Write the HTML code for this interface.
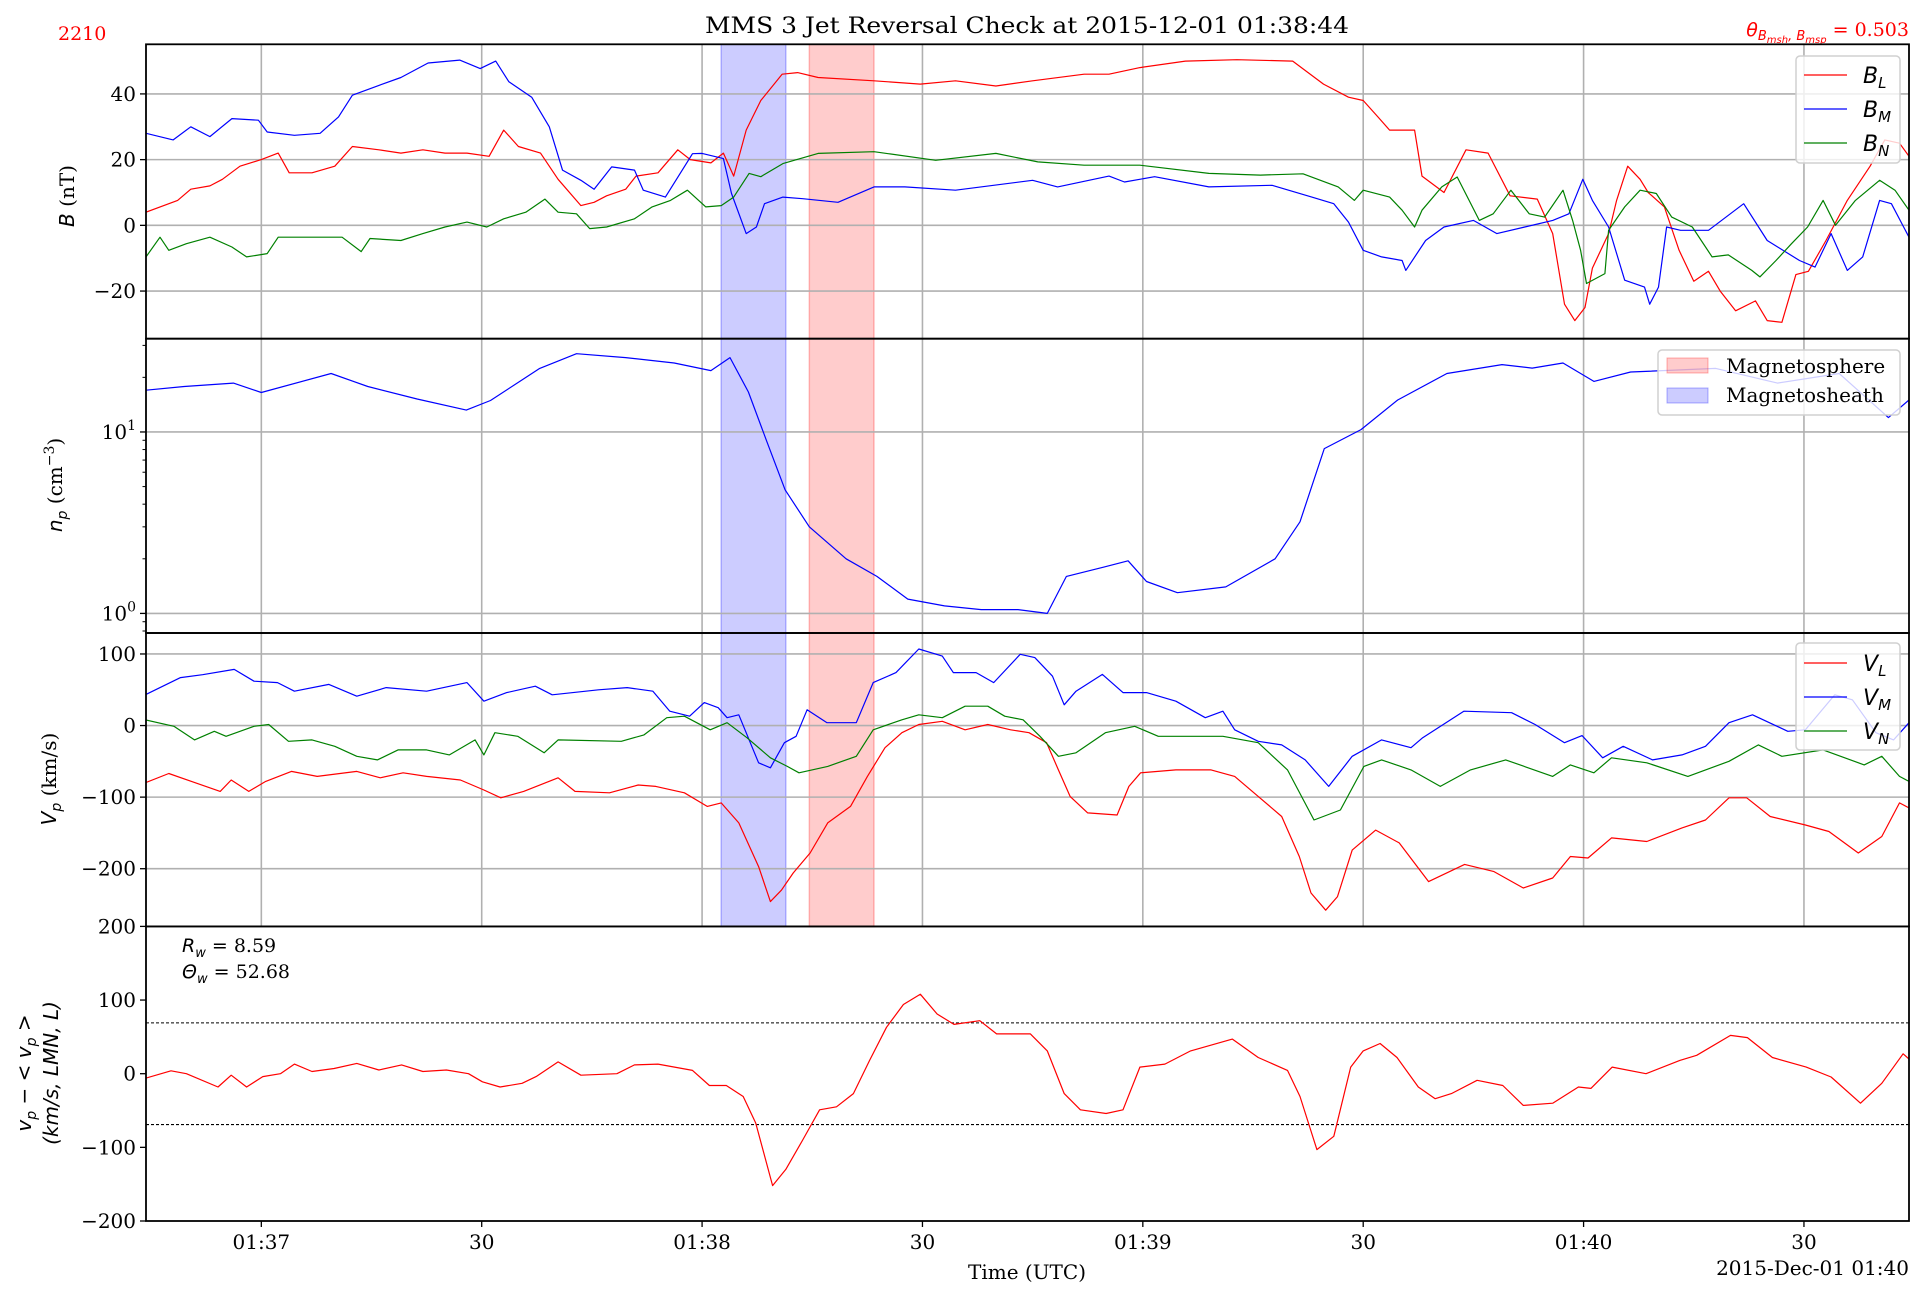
<!DOCTYPE html>
<html><head><meta charset="utf-8">
<style>
html,body{margin:0;padding:0;background:#fff;}
svg{display:block;}
text{font-family:"DejaVu Serif","Liberation Serif",serif;}
.m{font-family:"DejaVu Sans","Liberation Sans",sans-serif;font-style:italic;}
</style></head>
<body>
<svg id="fig" width="1924" height="1297" viewBox="0 0 1924 1297" xmlns="http://www.w3.org/2000/svg">
<rect width="1924" height="1297" fill="#fff"/>
<text x="1027" y="33" font-size="22" text-anchor="middle" textLength="644" lengthAdjust="spacingAndGlyphs">MMS 3 Jet Reversal Check at 2015-12-01 01:38:44</text>
<text x="58" y="40" font-size="19" fill="#ff0000">2210</text>
<text x="1909" y="36" font-size="19" fill="#ff0000" text-anchor="end"><tspan class="m">θ</tspan><tspan class="m" font-size="13" dy="4">B</tspan><tspan class="m" font-size="10" dy="3">msh</tspan><tspan class="m" font-size="13" dy="-3">, B</tspan><tspan class="m" font-size="10" dy="3">msp</tspan><tspan dy="-7"> = 0.503</tspan></text>
<g id="plots"></g>
</svg>
<script>
// ---- data (t = seconds after 01:37:00) ----
const tickTimes=[0,30,60,90,120,150,180,210];
const tickLabels=["01:37","30","01:38","30","01:39","30","01:40","30"];
const mshInterval=[62.6,71.4];
const mspInterval=[74.6,83.4];
const bL=[[-15.7,4],[-11.4,7.6],[-9.6,11],[-7,12],[-5.3,14],[-2.9,18],[0,20],[2.3,22],[3.8,16],[6.9,16],[10,18],[12.4,24],[16,23],[19,22],[22,23],[25,22],[28,22],[31,21],[33,29],[35,24],[38,22],[40.4,14],[43.5,6],[45.3,7],[47,9],[49.6,11],[51,15],[54,16],[56.7,23],[58.4,20],[61.2,19],[62.9,22],[64.3,15],[66,29],[68,38],[70.9,46],[73,46.5],[75.8,45],[83.4,44],[89.7,43],[94.5,44],[100,42.4],[105,44],[112,46],[115.4,46],[119.6,48],[125.8,50],[132.8,50.4],[140.4,50],[144.6,43],[148,39],[150,38],[152,33],[153.6,29],[157,29],[158,15],[161,10],[164,23],[167,22],[170,9],[173.7,8],[175.8,-2.5],[177.4,-24],[178.8,-29],[180.2,-25],[181.2,-13],[183.4,-2.5],[184.5,7.6],[186,18],[187.7,14],[188.8,10],[191,5.6],[193,-7.6],[195,-17],[197,-14],[198.6,-20],[200.7,-26],[203.4,-23],[205,-29],[207,-29.5],[208.9,-15],[210.6,-14],[213,-4.6],[215.9,7.6],[219,18],[221,26],[223,25],[224.3,21]];
const bM=[[-15.7,28],[-12,26],[-9.6,30],[-7,27],[-4,32.5],[-0.4,32],[0.8,28.4],[4.5,27.4],[8,28],[10.5,33],[12.4,39.6],[16,42.6],[19,45],[22.7,49.4],[27,50.3],[29.8,47.7],[31.9,50],[33.7,43.7],[36.8,39],[39.2,30],[41,16.8],[43.5,13.7],[45.3,11],[47.7,17.8],[50.8,16.8],[52,10.7],[55,8.6],[58.7,21.8],[60,21.9],[62.9,20.3],[64,9.7],[66,-2.5],[67.4,-0.5],[68.5,6.6],[71,8.6],[73.7,8.1],[78.5,7],[83.4,11.7],[87.6,11.7],[94.5,10.7],[105,13.7],[108.4,11.7],[115.4,15],[117.5,13.2],[121.6,14.8],[129,11.7],[137.6,12.2],[143,8.6],[146,6.6],[148,1],[150,-7.6],[152.5,-9.6],[155.3,-10.7],[155.8,-13.7],[158.5,-4.6],[161,-0.5],[165,1.5],[168.2,-2.5],[172,-0.5],[175.8,1.5],[178,3.5],[179.9,14],[181.2,7.6],[183.4,-0.5],[185.6,-16.7],[188.3,-18.8],[189,-24],[190.2,-18.8],[191.3,-0.5],[193.2,-1.5],[197,-1.5],[201.8,6.6],[205,-4.6],[209.4,-10.7],[211.5,-12.7],[213.7,-2.5],[215.9,-13.7],[218,-9.6],[220.3,7.6],[221.9,6.6],[224.3,-3.6]];
const bN=[[-15.7,-9.6],[-13.8,-3.6],[-12.6,-7.6],[-10.2,-5.6],[-7,-3.6],[-4,-6.6],[-2,-9.6],[0.8,-8.6],[2.3,-3.6],[6.9,-3.6],[11,-3.6],[13.6,-8],[14.8,-4],[19,-4.6],[22,-2.5],[25,-0.5],[28,1],[30.7,-0.5],[33,2],[36,4],[38.6,8],[40.4,4],[42.9,3.5],[44.7,-1],[47,-0.5],[50.8,2],[53.2,5.6],[55.7,7.6],[58,10.7],[60.5,5.6],[62.6,6],[64.3,8.6],[66.4,15.8],[68,14.8],[71,18.8],[75.8,21.9],[83.4,22.4],[91.8,19.8],[100,21.9],[105.7,19.3],[112,18.3],[119.6,18.3],[129,15.8],[136,15.3],[141.8,15.7],[146.6,11.7],[148.8,7.6],[150,10.7],[153.6,8.6],[155.3,4.6],[157,-0.5],[158,4.6],[160.7,11.7],[162.8,14.7],[165.8,1.5],[167.7,3.5],[170.1,10.7],[172.6,3.5],[174.7,2.5],[177.2,10.7],[178.5,1.5],[179.6,-7.6],[180.4,-17.7],[182.9,-14.7],[183.4,-1.5],[185.6,5.6],[187.7,10.7],[189.9,9.7],[192,2.5],[194.8,-0.5],[197.5,-9.6],[199.7,-9],[202.9,-13.7],[204,-15.7],[206.2,-10.7],[208.3,-5.6],[210.5,-0.5],[212.6,7.6],[214.3,0],[217,7.6],[220.3,13.7],[222.4,10.7],[224.3,4.6]];
const np=[[-15.7,17],[-10.5,17.8],[-3.8,18.6],[0,16.5],[9.5,21],[14.5,17.8],[21.2,15.2],[27.9,13.2],[31.2,14.9],[37.9,22.4],[42.9,27],[49.6,25.7],[56.2,24],[61.2,21.8],[63.8,25.7],[66.3,16.6],[68.8,8.9],[71.3,4.8],[74.6,3],[79.6,2],[83.8,1.6],[88,1.2],[93,1.1],[98,1.05],[103,1.05],[107,1.0],[109.6,1.6],[114.7,1.8],[118,1.95],[120.5,1.5],[124.7,1.3],[131.3,1.4],[138,2],[141.4,3.2],[144.7,8.1],[149.7,10.3],[154.7,15],[161.4,21],[168.9,23.5],[173,22.5],[177.2,24],[181.4,19],[186.4,21.4],[198,22.4],[206.4,18.6],[214.8,21],[221.5,12],[224.3,15]];
const vL=[[-15.8,-80],[-12.6,-67],[-9.5,-78],[-5.6,-92],[-4.1,-76],[-1.7,-92],[0.6,-78],[4.1,-64],[7.6,-71],[13,-64],[16.2,-73],[19.3,-66],[22.5,-71],[27.1,-76],[30.3,-90],[32.6,-101],[35.7,-92],[40.4,-73],[42.7,-92],[47.4,-94],[51.3,-83],[53.7,-85],[57.6,-94],[60.7,-113],[62.6,-108],[65,-136],[67.7,-197],[69.3,-246],[70.8,-230],[72.4,-206],[74.7,-178],[77.1,-136],[80.2,-113],[82.5,-71],[84.9,-31],[87.2,-10],[89.5,1.4],[92.7,6],[95.8,-6],[98.9,1.4],[102,-6],[104.5,-10],[106.9,-24],[108.5,-62],[110.1,-99],[112.5,-122],[116.5,-125],[118.1,-85],[119.7,-66],[124.5,-62],[129.3,-62],[132.5,-71],[135.7,-99],[138.9,-127],[141.3,-183],[142.9,-234],[144.9,-258],[146.5,-239],[148.5,-174],[151.7,-146],[154.9,-164],[158.9,-218],[163.8,-194],[167.8,-204],[171.8,-227],[175.8,-213],[178.2,-183],[180.6,-185],[183.8,-157],[188.6,-162],[193.4,-143],[196.6,-132],[199.8,-101],[202.2,-101],[205.4,-127],[210.2,-139],[213.4,-148],[217.4,-178],[220.6,-155],[223,-108],[224.3,-115]];
const vM=[[-15.8,43],[-11,67],[-8,71],[-3.7,78.5],[-1,62],[2.2,60],[4.5,48],[9.2,57.5],[13,41],[17,53],[22.5,48],[28,60],[30.3,34],[33.4,46],[37.3,55],[39.6,43],[45.9,50],[49.8,53],[53.3,48],[55.6,20],[58.3,13],[60.3,32],[62.2,25],[63.4,11],[65,15],[67.7,-52],[69.3,-59],[71.2,-24],[72.8,-15],[74.3,22],[77,4],[81,4],[83.3,60],[86.4,74],[89.5,107],[92.7,97],[94.2,74],[97.3,74],[99.7,60],[103.3,99.5],[105.3,95],[107.7,69],[109.3,29],[110.9,48],[114.5,71.5],[117.3,46],[120.5,46],[124.5,34],[128.5,11],[130.9,20],[132.5,-6],[135.7,-22],[138.9,-27],[142.1,-48],[145.3,-85],[148.5,-43],[152.5,-20],[156.5,-31],[158.1,-17],[163.7,20],[170.2,18],[173.4,1.4],[177.4,-24],[179.8,-14],[182.6,-45],[185.4,-29],[189.4,-48],[193.4,-41],[196.6,-29],[199.8,4],[203,15],[207.8,-8],[210.2,-6],[214.2,43],[216.6,36],[219.8,-10],[222.2,-20],[224.3,4]];
const vN=[[-15.8,8],[-11.9,-1],[-9.1,-20],[-6.4,-8],[-4.8,-15],[-1,-1],[1,1.4],[3.7,-22],[6.9,-20],[10,-29],[13,-43],[15.8,-48],[18.6,-34],[22.5,-34],[25.6,-41],[29.1,-20],[30.3,-41],[31.8,-10],[34.9,-15],[38.5,-38],[40.4,-20],[49,-22],[52.1,-13],[55.2,11],[57.6,13],[61.1,-6],[63.4,4],[66.1,-17],[69.3,-45],[71.6,-57],[73.2,-66],[77.1,-57],[81,-43],[83.3,-6],[87.2,8],[89.5,15],[92.7,11],[95.8,27],[98.9,27],[101.2,13],[103.7,8],[106,-15],[108.5,-43],[110.9,-38],[114.9,-10],[118.9,-1],[122.1,-15],[126.1,-15],[130.9,-15],[135.7,-24],[139.7,-62],[143.3,-132],[146.9,-118],[150.1,-57],[152.5,-48],[156.5,-62],[160.5,-85],[164.6,-62],[169.4,-48],[175.8,-71],[178.2,-55],[181.4,-66],[183.8,-45],[188.6,-52],[194.2,-71],[199.8,-50],[203.8,-27],[207,-43],[212.6,-34],[218.2,-55],[220.6,-43],[223,-71],[224.3,-78]];
const resid=[[-15.7,-6],[-12.3,4],[-10.2,0],[-5.9,-18],[-4.1,-2],[-2,-18],[0.2,-4],[2.6,0],[4.5,13],[6.9,3],[9.9,7],[13,14],[16,5],[19.1,12],[22,3],[25.2,5],[28.2,0],[30.1,-11],[32.5,-18],[35.5,-13],[37.4,-4],[40.4,16],[43.5,-2],[48.4,0],[50.8,12],[54,13],[58.7,4.5],[61,-16],[63.3,-16],[65.6,-31],[67.3,-67],[69.6,-152],[71.4,-130],[73.7,-90],[76,-49],[78.3,-45],[80.6,-27],[82.8,18],[85.1,63],[87.4,94],[89.7,108],[92,81],[94.3,67],[97.8,72],[100.1,54],[104.7,54],[107,31],[109.3,-27],[111.5,-49],[115,-54],[117.3,-49],[119.6,9],[123,13],[126.5,31],[132.2,47],[135.7,22],[139.7,4.5],[141.4,-31],[143.7,-103],[146,-85],[148.3,9],[150,31],[152.3,41],[154.6,22],[157.5,-18],[159.8,-34],[162,-27],[165.5,-9],[169,-16],[171.8,-43],[175.8,-40],[179.3,-18],[181,-20],[183.9,9],[188.5,0],[193.1,18],[195.4,25],[200,52],[202.3,49],[205.7,22],[210.3,9],[213.7,-4.5],[217.7,-40],[220.6,-13],[223.5,27],[224.3,20]];
const p1Ticks=[40,20,0,-20];
const p3Ticks=[100,0,-100,-200];
const p4Ticks=[200,100,0,-100,-200];
const thresholds=[69,-69];
// ---- layout ----
const NS="http://www.w3.org/2000/svg";
const L=146,R=1909,T0=-15.7,T1=224.3;
const P=[{top:44.3,bot:338.7,lo:-34.5,hi:55.1},{top:338.7,bot:633,lo:Math.log10(0.78),hi:1.514},{top:633,bot:926.4,lo:-280.6,hi:129.3},{top:926.4,bot:1221,lo:-200,hi:200}];
const g=document.getElementById('plots');
function X(t){return L+(t-T0)/(T1-T0)*(R-L);}
function Y(i,v){const p=P[i];return p.top+(p.hi-v)/(p.hi-p.lo)*(p.bot-p.top);}
function el(tag,attrs,parent){const e=document.createElementNS(NS,tag);for(const k in attrs)e.setAttribute(k,attrs[k]);(parent||g).appendChild(e);return e;}
function fmt(v){return v<0?'\u2212'+(-v):''+v;}
function ylabelTick(i,v,txt){const y=Y(i,v);
  const tk=el('line',{x1:L-6,x2:L,y1:y,y2:y,stroke:'#000','stroke-width':1.3});
  
  
  const t=el('text',{x:L-10,y:y+7,'font-size':20,'text-anchor':'end'});t.textContent=txt;
  
  
  return t;}
// clip paths
const defs=el('defs',{});
P.forEach((p,i)=>{const c=el('clipPath',{id:'c'+i},defs);el('rect',{x:L,y:p.top,width:R-L,height:p.bot-p.top},c);});
// shaded intervals panels 0-2
[0,1,2].forEach(i=>{const p=P[i];
  const a=el('rect',{x:X(mshInterval[0]),y:p.top,width:X(mshInterval[1])-X(mshInterval[0]),height:p.bot-p.top,fill:'rgba(0,0,255,0.2)',stroke:'rgba(0,0,255,0.25)','stroke-width':1.5});
  
  
  const b=el('rect',{x:X(mspInterval[0]),y:p.top,width:X(mspInterval[1])-X(mspInterval[0]),height:p.bot-p.top,fill:'rgba(255,0,0,0.2)',stroke:'rgba(255,0,0,0.25)','stroke-width':1.5});
  
  
});
// grids panels 0-2
[0,1,2].forEach(i=>{const p=P[i];
  tickTimes.forEach(t=>{const l=el('line',{x1:X(t),x2:X(t),y1:p.top,y2:p.bot,stroke:'#b0b0b0','stroke-width':1.6});
    
    });
  const ys=i===0?p1Ticks:i===1?[0,1]:p3Ticks;
  ys.forEach(v=>{const l=el('line',{x1:L,x2:R,y1:Y(i,v),y2:Y(i,v),stroke:'#b0b0b0','stroke-width':1.6});
    
    });
});
// series
function series(i,data,color,name,log){
  const pts=data.map(d=>X(d[0]).toFixed(1)+','+Y(i,log?Math.log10(d[1]):d[1]).toFixed(1)).join(' ');
  const pl=el('polyline',{points:pts,fill:'none',stroke:color,'stroke-width':1.2,'stroke-linejoin':'round','clip-path':'url(#c'+i+')'});
  
  
}
series(0,bL,'#ff0000','b-l-line');
series(0,bM,'#0000ff','b-m-line');
series(0,bN,'#008000','b-n-line');
series(1,np,'#0000ff','density-line',true);
series(2,vL,'#ff0000','v-l-line');
series(2,vM,'#0000ff','v-m-line');
series(2,vN,'#008000','v-n-line');
thresholds.forEach(v=>{const l=el('line',{x1:L,x2:R,y1:Y(3,v),y2:Y(3,v),stroke:'#000','stroke-width':1.1,'stroke-dasharray':'3,2'});
  
  });
series(3,resid,'#ff0000','velocity-residual-line');
// y ticks
p1Ticks.forEach(v=>ylabelTick(0,v,fmt(v)));
p3Ticks.forEach(v=>ylabelTick(2,v,fmt(v)));
p4Ticks.forEach(v=>ylabelTick(3,v,fmt(v)));
[0,1].forEach(e=>{const t=ylabelTick(1,e,'');t.innerHTML='10<tspan font-size="14" dy="-9">'+e+'</tspan>';});
// minor log ticks
[0.8,0.9,2,3,4,5,6,7,8,9,20,30].forEach(v=>{const y=Y(1,Math.log10(v));
  const m=el('line',{x1:L-3.5,x2:L,y1:y,y2:y,stroke:'#000','stroke-width':1});
  
  });
// x ticks & labels
tickTimes.forEach((t,k)=>{const x=X(t);
  const tk=el('line',{x1:x,x2:x,y1:1221,y2:1227,stroke:'#000','stroke-width':1.3});
  
  
  const lb=el('text',{x:x,y:1249,'font-size':20,'text-anchor':'middle'});lb.textContent=tickLabels[k];
  
  });
// frames
P.forEach((p,i)=>{const f=el('rect',{x:L,y:p.top,width:R-L,height:p.bot-p.top,fill:'none',stroke:'#000','stroke-width':1.8});
  
  });
</script>
<svg style="position:absolute;left:0;top:0" width="1924" height="1297" viewBox="0 0 1924 1297" xmlns="http://www.w3.org/2000/svg">
<text x="1027" y="1279" font-size="20" text-anchor="middle">Time (UTC)</text>
<text x="1909" y="1275" font-size="20" text-anchor="end">2015-Dec-01 01:40</text>
<text transform="translate(74,196) rotate(-90)" font-size="20" text-anchor="middle"><tspan class="m">B</tspan> (nT)</text>
<text transform="translate(62,485) rotate(-90)" font-size="20" text-anchor="middle"><tspan class="m">n</tspan><tspan class="m" font-size="14" dy="5">p</tspan><tspan dy="-5"> (cm</tspan><tspan font-size="14" dy="-8">−3</tspan><tspan dy="8">)</tspan></text>
<text transform="translate(56,779) rotate(-90)" font-size="20" text-anchor="middle"><tspan class="m">V</tspan><tspan class="m" font-size="14" dy="5">p</tspan><tspan dy="-5"> (km/s)</tspan></text>
<text transform="translate(31,1073) rotate(-90)" font-size="20" text-anchor="middle"><tspan class="m">v</tspan><tspan class="m" font-size="14" dy="5">p</tspan><tspan class="m" dy="-5"> − &lt; v</tspan><tspan class="m" font-size="14" dy="5">p</tspan><tspan class="m" dy="-5"> &gt;</tspan></text>
<text transform="translate(58,1073) rotate(-90)" font-size="20" text-anchor="middle" class="m">(km/s, LMN, L)</text>
<text x="182" y="952" font-size="19"><tspan class="m">R</tspan><tspan class="m" font-size="13" dy="5">w</tspan><tspan dy="-5"> = 8.59</tspan></text>
<text x="182" y="978" font-size="19"><tspan class="m">Θ</tspan><tspan class="m" font-size="13" dy="5">w</tspan><tspan dy="-5"> = 52.68</tspan></text>
<g>
<rect x="1796" y="56" width="104" height="107" rx="4" fill="rgba(255,255,255,0.8)" stroke="#d0d0d0" stroke-width="1.5"/>
<line x1="1804" x2="1847" y1="75" y2="75" stroke="#ff0000" stroke-width="1.3"/>
<line x1="1804" x2="1847" y1="109" y2="109" stroke="#0000ff" stroke-width="1.3"/>
<line x1="1804" x2="1847" y1="143" y2="143" stroke="#008000" stroke-width="1.3"/>
<text x="1863" y="83" font-size="22" class="m">B<tspan font-size="15" dy="5">L</tspan></text>
<text x="1863" y="117" font-size="22" class="m">B<tspan font-size="15" dy="5">M</tspan></text>
<text x="1863" y="151" font-size="22" class="m">B<tspan font-size="15" dy="5">N</tspan></text>
</g>
<g>
<rect x="1658" y="350" width="242" height="65" rx="4" fill="rgba(255,255,255,0.8)" stroke="#d0d0d0" stroke-width="1.5"/>
<rect x="1667" y="358" width="41" height="15" fill="rgba(255,0,0,0.2)" stroke="rgba(255,0,0,0.3)"/>
<rect x="1667" y="388" width="41" height="15" fill="rgba(0,0,255,0.2)" stroke="rgba(0,0,255,0.3)"/>
<text x="1726" y="373" font-size="20">Magnetosphere</text>
<text x="1726" y="402" font-size="20">Magnetosheath</text>
</g>
<g>
<rect x="1796" y="643" width="104" height="107" rx="4" fill="rgba(255,255,255,0.8)" stroke="#d0d0d0" stroke-width="1.5"/>
<line x1="1804" x2="1847" y1="663" y2="663" stroke="#ff0000" stroke-width="1.3"/>
<line x1="1804" x2="1847" y1="697" y2="697" stroke="#0000ff" stroke-width="1.3"/>
<line x1="1804" x2="1847" y1="731" y2="731" stroke="#008000" stroke-width="1.3"/>
<text x="1863" y="671" font-size="22" class="m">V<tspan font-size="15" dy="5">L</tspan></text>
<text x="1863" y="705" font-size="22" class="m">V<tspan font-size="15" dy="5">M</tspan></text>
<text x="1863" y="739" font-size="22" class="m">V<tspan font-size="15" dy="5">N</tspan></text>
</g>
</svg>
</body></html>
